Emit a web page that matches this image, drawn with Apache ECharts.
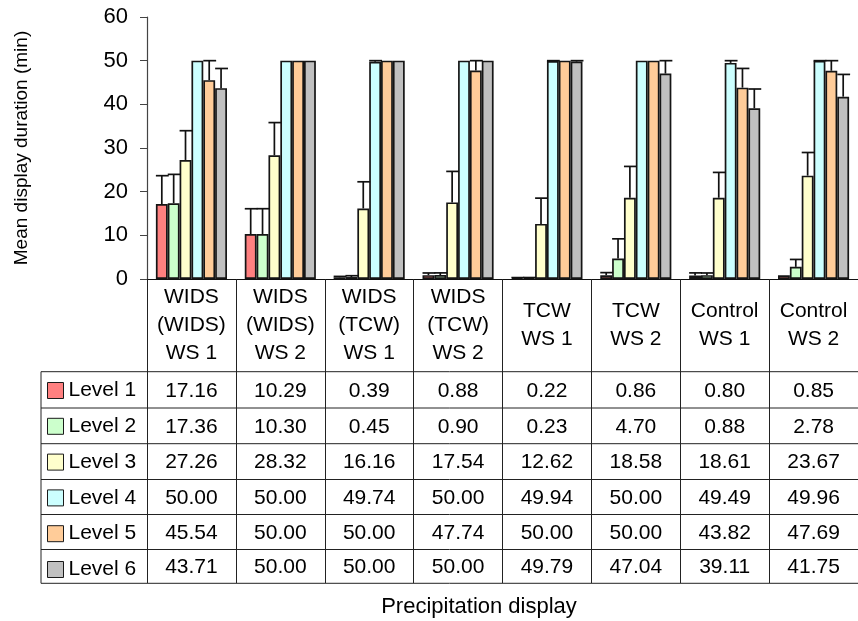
<!DOCTYPE html>
<html>
<head>
<meta charset="utf-8">
<script src="https://cdn.jsdelivr.net/npm/echarts@6/dist/echarts.min.js"></script>
<style>
  html, body { margin: 0; padding: 0; background: #fff; }
  #chart { width: 858px; height: 621px; }
</style>
</head>
<body>
<div id="chart"></div>
<script>
// Display conditions (x categories)
const categories = [
  'WIDS\n(WIDS)\nWS 1', 'WIDS\n(WIDS)\nWS 2', 'WIDS\n(TCW)\nWS 1', 'WIDS\n(TCW)\nWS 2',
  'TCW\nWS 1', 'TCW\nWS 2', 'Control\nWS 1', 'Control\nWS 2'
];
const levelNames = ['Level 1', 'Level 2', 'Level 3', 'Level 4', 'Level 5', 'Level 6'];

// Mean display duration (min) per level
const level1 = [17.16, 10.29, 0.39, 0.88, 0.22, 0.86, 0.80, 0.85];
const level2 = [17.36, 10.30, 0.45, 0.90, 0.23, 4.70, 0.88, 2.78];
const level3 = [27.26, 28.32, 16.16, 17.54, 12.62, 18.58, 18.61, 23.67];
const level4 = [50.00, 50.00, 49.74, 50.00, 49.94, 50.00, 49.49, 49.96];
const level5 = [45.54, 50.00, 50.00, 47.74, 50.00, 50.00, 43.82, 47.69];
const level6 = [43.71, 50.00, 50.00, 50.00, 49.79, 47.04, 39.11, 41.75];

// Upper error bar extents (min)
const err1 = [6.5, 5.8, 0.2, 0.5, 0.1, 0.6, 0.6, 0];
const err2 = [6.6, 5.8, 0.3, 0.5, 0.1, 4.5, 0.5, 1.7];
const err3 = [6.7, 7.5, 6.1, 7.1, 5.9, 7.2, 5.8, 5.3];
const err4 = [0, 0, 0.26, 0, 0.06, 0, 0.51, 0.04];
const err5 = [4.46, 0, 0, 2.26, 0, 0, 4.4, 2.31];
const err6 = [4.5, 0, 0, 0, 0.21, 2.96, 4.4, 5.1];

const yTicks = { min: 0, max: 60, interval: 10 };

const levels = [level1, level2, level3, level4, level5, level6];
const errors = [err1, err2, err3, err4, err5, err6];
const colors = ['#FF8080', '#CCFFCC', '#FFFFCC', '#CCFFFF', '#FFCC99', '#C0C0C0'];

const FONT = '"Liberation Sans", Arial, sans-serif';
const INK = '#111';

// data-table layout
const tableLeft = 41;
const tableRight = 858;
const headerH = 92.7;
const rowLines = [0, 36.3, 72, 107.8, 142.8, 177.8, 211.6]; // offsets below the header

const chart = echarts.init(document.getElementById('chart'));

const barSeries = levels.map((vals, k) => ({
  type: 'bar',
  name: levelNames[k],
  data: vals,
  barGap: 0,
  barCategoryGap: '20%',
  itemStyle: { color: colors[k], borderColor: '#151515', borderWidth: 1.7 },
  emphasis: { disabled: true },
  z: 2
}));

const errSeries = errors.map((errs, k) => ({
  type: 'custom',
  data: errs.map((e, i) => [i, levels[k][i], e]),
  z: 3,
  silent: true,
  renderItem: function (params, api) {
    const e = api.value(2);
    if (!e) return null;
    const ci = api.value(0);
    const v = api.value(1);
    const band = api.size([1, 0])[0];
    const bw = band * 0.8 / levels.length;
    const base = api.coord([ci, v]);
    const top = api.coord([ci, v + e]);
    const x = base[0] + (k - (levels.length - 1) / 2) * bw;
    const st = { stroke: '#111', lineWidth: 1.7 };
    return {
      type: 'group',
      children: [
        { type: 'line', shape: { x1: x, y1: base[1], x2: x, y2: top[1] }, style: st },
        { type: 'line', shape: { x1: x - bw / 2, y1: top[1], x2: x + bw / 2 + 1, y2: top[1] }, style: st }
      ]
    };
  }
}));

chart.setOption({
  animation: false,
  backgroundColor: '#fff',
  textStyle: { fontFamily: FONT },
  grid: { left: 147, top: 17, width: 720, height: 262 },
  legend: {
    data: levelNames,
    orient: 'vertical',
    left: 47,
    top: 380,
    padding: 0,
    itemWidth: 16,
    itemHeight: 16,
    itemGap: 14.8,
    icon: 'rect',
    selectedMode: false,
    itemStyle: { borderColor: '#1a1a1a', borderWidth: 1 },
    textStyle: { fontSize: 21, color: '#000', fontFamily: FONT, lineHeight: 21 }
  },
  xAxis: {
    type: 'category',
    data: categories,
    axisLine: { lineStyle: { color: INK, width: 1.2 } },
    axisTick: {
      show: true, alignWithLabel: false, interval: 0, inside: false,
      length: 304, lineStyle: { color: '#222', width: 1 }
    },
    axisLabel: {
      interval: 0, margin: 46, verticalAlign: 'middle',
      fontSize: 21, lineHeight: 28, color: '#000', fontFamily: FONT, align: 'center'
    }
  },
  yAxis: {
    type: 'value',
    min: yTicks.min, max: yTicks.max, interval: yTicks.interval,
    name: 'Mean display duration (min)',
    nameLocation: 'middle',
    nameGap: 116,
    nameRotate: 90,
    nameTextStyle: { fontSize: 19, color: '#000', fontFamily: FONT },
    axisLine: { show: true, lineStyle: { color: '#444', width: 1.2 } },
    axisTick: { show: true, length: 7, lineStyle: { color: '#444' } },
    axisLabel: { margin: 19, fontSize: 22, color: '#000', fontFamily: FONT },
    splitLine: { show: false }
  },
  series: barSeries.concat(errSeries)
});

// data table under the axis, positioned from the axis scales
function drawTable() {
  const y0 = chart.convertToPixel({ yAxisIndex: 0 }, 0);
  const headTop = y0 + headerH;
  const g = [];
  rowLines.forEach(off => {
    g.push({
      type: 'line', silent: true,
      shape: { x1: tableLeft, y1: headTop + off, x2: tableRight, y2: headTop + off },
      style: { stroke: '#222', lineWidth: 1 }
    });
  });
  g.push({
    type: 'line', silent: true,
    shape: { x1: tableLeft, y1: headTop, x2: tableLeft, y2: headTop + rowLines[rowLines.length - 1] },
    style: { stroke: '#222', lineWidth: 1 }
  });
  levels.forEach((vals, k) => {
    const cy = headTop + (rowLines[k] + rowLines[k + 1]) / 2 + 1;
    vals.forEach((v, i) => {
      const cx = chart.convertToPixel({ xAxisIndex: 0 }, i);
      g.push({
        type: 'text', silent: true,
        x: cx, y: cy,
        style: {
          text: v.toFixed(2), fill: '#000', font: '21px ' + FONT,
          align: 'center', verticalAlign: 'middle'
        }
      });
    });
  });
  g.push({
    type: 'text', silent: true,
    x: 479, y: headTop + rowLines[rowLines.length - 1] + 24,
    style: {
      text: 'Precipitation display', fill: '#000', font: '22px ' + FONT,
      align: 'center', verticalAlign: 'middle'
    }
  });
  chart.setOption({ graphic: g });
}
drawTable();
</script>
</body>
</html>
